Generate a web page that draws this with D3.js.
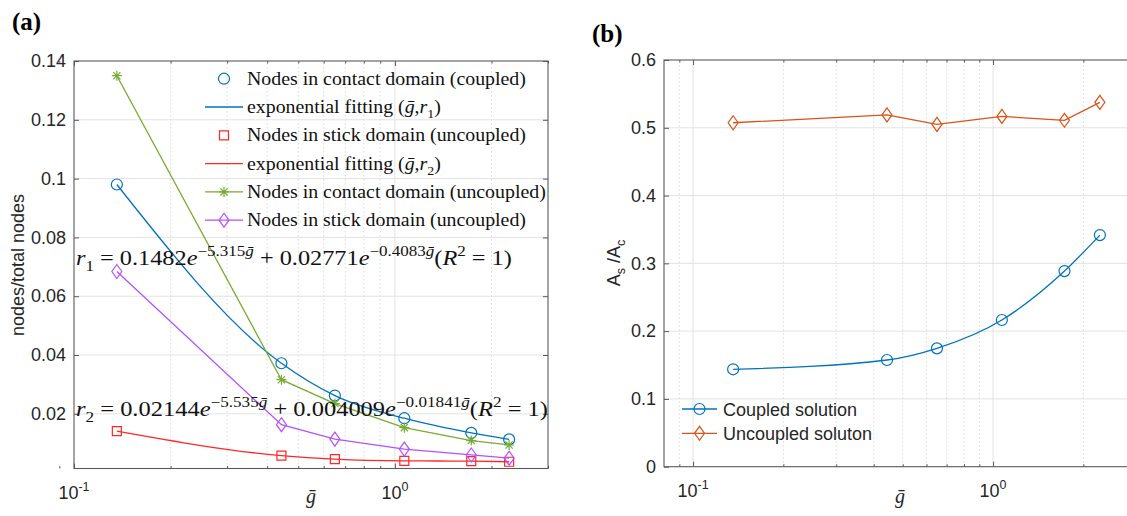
<!DOCTYPE html>
<html>
<head>
<meta charset="utf-8">
<script src="https://cdn.jsdelivr.net/npm/d3@7"></script>
<style>
  body { margin: 0; background: #fff; }
  svg { display: block; }
  text { white-space: pre; }
</style>
</head>
<body>
<div id="chart"></div>
<script>
// Data
const gBar = [0.136, 0.443, 0.65, 1.07, 1.73, 2.27];

// (a) nodes / total nodes
const contactCoupled = [0.098, 0.0372, 0.0262, 0.0185, 0.0135, 0.0113];
const stickCoupled = [0.0141, 0.0058, 0.0046, 0.0040, 0.0039, 0.0037];
const contactUncoupled = [0.135, 0.0316, 0.0235, 0.0153, 0.0109, 0.0094];
const stickUncoupled = [0.0684, 0.0163, 0.0114, 0.0080, 0.0060, 0.0049];

// (b) As / Ac
const ratioCoupled = [0.1437, 0.1574, 0.1746, 0.2164, 0.2886, 0.3417];
const ratioUncoupled = [0.5074, 0.519, 0.505, 0.5168, 0.511, 0.5375];

// Ticks
const yTicksA = [0.02, 0.04, 0.06, 0.08, 0.1, 0.12, 0.14];
const yTicksB = [0, 0.1, 0.2, 0.3, 0.4, 0.5, 0.6];
const decadeTicks = [0.1, 1];
const minorTicks = [0.09, 0.2, 0.3, 0.4, 0.5, 0.6, 0.7, 0.8, 0.9, 2, 3];

// Legend labels (rich text parts: [text, style])
const legendLabelsA = [
    [["Nodes in contact domain (coupled)", ""]],
    [["exponential fitting (", ""], ["ḡ", "i"], [",", ""], ["r", "i"], ["1", "sub"], [")", ""]],
    [["Nodes in stick domain (uncoupled)", ""]],
    [["exponential fitting (", ""], ["ḡ", "i"], [",", ""], ["r", "i"], ["2", "sub"], [")", ""]],
    [["Nodes in contact domain (uncoupled)", ""]],
    [["Nodes in stick domain (uncoupled)", ""]]
];
const legendLabelsB = ["Coupled solution", "Uncoupled soluton"];

const fitEq1 = [["r", "i"], ["1", "sub"], [" = 0.1482", ""], ["e", "i"], ["−5.315", "sup"], ["ḡ", "sup i"],
    [" + 0.02771", ""], ["e", "i"], ["−0.4083", "sup"], ["ḡ", "sup i"], ["(", ""], ["R", "i"], ["2", "sup"], [" = 1)", ""]];
const fitEq2 = [["r", "i"], ["2", "sub"], [" = 0.02144", ""], ["e", "i"], ["−5.535", "sup"], ["ḡ", "sup i"],
    [" + 0.004009", ""], ["e", "i"], ["−0.01841", "sup"], ["ḡ", "sup i"], ["(", ""], ["R", "i"], ["2", "sup"], [" = 1)", ""]];

// Configuration
const width = 1127;
const height = 516;
const colors = {
    blue: "#0072BD",
    orange: "#D95319",
    green: "#77AC30",
    purple: "#B551FF",
    red: "#FF2626"
};
const sansFont = "'Liberation Sans', Arial, sans-serif";
const serifFont = "'Liberation Serif', 'DejaVu Serif', serif";
const axisColor = "#5a5a5a";
const textColor = "#262626";

const svg = d3.select("#chart")
    .append("svg")
    .attr("width", width)
    .attr("height", height)
    .attr("viewBox", [0, 0, width, height]);

// Scales
const xA = d3.scaleLog().domain([0.1, 3]).range([74, 548]);
const yA = d3.scaleLinear().domain([0.0014, 0.14]).range([468.5, 61]);
const xB = d3.scaleLog().domain([0.08, 3]).range([664, 664 + 300 * Math.log10(3 / 0.08)]);
const yB = d3.scaleLinear().domain([0, 0.6]).range([466.7, 60]);

// Marker shapes
const markerPaths = {
    circle: "M5.5,0A5.5,5.5 0 1,1 -5.5,0A5.5,5.5 0 1,1 5.5,0Z",
    square: "M-4.5,-4.5H4.5V4.5H-4.5Z",
    diamond: "M0,-7L5,0L0,7L-5,0Z",
    star: "M-5,0H5M0,-5V5M-3.6,-3.6L3.6,3.6M-3.6,3.6L3.6,-3.6"
};

// Rich text with italic / sub / superscript parts
function richText(sel, parts, size) {
    let shift = 0;
    parts.forEach(([str, style]) => {
        const tokens = style.split(" ");
        const isSup = tokens.includes("sup");
        const isSub = tokens.includes("sub");
        const target = isSup ? -0.42 * size : isSub ? 0.28 * size : 0;
        sel.append("tspan")
            .attr("dy", target - shift)
            .attr("font-size", isSup || isSub ? size * 0.7 : size)
            .attr("font-style", tokens.includes("i") ? "italic" : null)
            .text(str);
        shift = target;
    });
}

function drawAxes(g, x, y, yTicks) {
    const [x0, x1] = x.range();
    const [yBottom, yTop] = y.range();
    const insideX = v => x(v) > x0 + 1 && x(v) < x1 - 1;
    const insideY = v => y(v) < yBottom - 1 && y(v) > yTop + 1;

    // Minor grid (dotted)
    g.append("g")
        .selectAll("line")
        .data(minorTicks.filter(insideX))
        .join("line")
        .attr("x1", d => x(d)).attr("x2", d => x(d))
        .attr("y1", yBottom).attr("y2", yTop)
        .attr("stroke", "#cfcfcf")
        .attr("stroke-width", 0.8)
        .attr("stroke-dasharray", "1.5,2.5");

    // Major grid
    g.append("g")
        .selectAll("line")
        .data(decadeTicks.filter(insideX))
        .join("line")
        .attr("x1", d => x(d)).attr("x2", d => x(d))
        .attr("y1", yBottom).attr("y2", yTop)
        .attr("stroke", "#e2e2e2");
    g.append("g")
        .selectAll("line")
        .data(yTicks.filter(insideY))
        .join("line")
        .attr("x1", x0).attr("x2", x1)
        .attr("y1", d => y(d)).attr("y2", d => y(d))
        .attr("stroke", "#e2e2e2");

    const styleAxis = a => {
        a.select(".domain").remove();
        a.selectAll("line").attr("stroke", axisColor);
        a.attr("font-family", sansFont).attr("font-size", 18);
        a.selectAll("text").attr("fill", textColor);
    };
    const fmt = d => d === 0 ? "0" : String(+d.toFixed(2));

    // y axes (left labelled, right ticks only)
    g.append("g")
        .attr("transform", `translate(${x0},0)`)
        .call(d3.axisLeft(y).tickValues(yTicks).tickSize(-5).tickPadding(8).tickFormat(fmt))
        .call(styleAxis);
    g.append("g")
        .attr("transform", `translate(${x1},0)`)
        .call(d3.axisRight(y).tickValues(yTicks).tickSize(-5).tickFormat(""))
        .call(styleAxis);

    // x ticks bottom / top
    [[d3.axisBottom, yBottom], [d3.axisTop, yTop]].forEach(([axisFn, yPos]) => {
        g.append("g")
            .attr("transform", `translate(0,${yPos})`)
            .call(axisFn(x).tickValues(decadeTicks).tickSize(-5).tickFormat(""))
            .call(styleAxis);
        g.append("g")
            .attr("transform", `translate(0,${yPos})`)
            .call(axisFn(x).tickValues(minorTicks).tickSize(-2.5).tickFormat(""))
            .call(styleAxis);
    });

    // Box
    g.append("rect")
        .attr("x", x0)
        .attr("y", yTop)
        .attr("width", x1 - x0)
        .attr("height", yBottom - yTop)
        .attr("fill", "none")
        .attr("stroke", axisColor)
        .attr("stroke-width", 1.1);

    // x tick labels as 10^n
    const labels = g.append("g")
        .selectAll("text")
        .data(decadeTicks)
        .join("text")
        .attr("x", d => x(d))
        .attr("y", yBottom + 30)
        .attr("text-anchor", "middle")
        .attr("font-family", sansFont)
        .attr("font-size", 18)
        .attr("fill", textColor);
    labels.append("tspan").text("10");
    labels.append("tspan")
        .attr("dy", -8)
        .attr("font-size", 12.5)
        .text(d => String(Math.round(Math.log10(d))));

    // x label g-bar
    g.append("text")
        .attr("x", (x0 + Math.min(x1, width)) / 2 + (x1 > width ? (x1 - width) / 2 : 0))
        .attr("y", 503)
        .attr("text-anchor", "middle")
        .attr("font-family", serifFont)
        .attr("font-style", "italic")
        .attr("font-size", 20)
        .attr("fill", textColor)
        .text("ḡ");
}

function drawMarkers(g, x, y, values, marker, color) {
    g.append("g")
        .selectAll("path")
        .data(values)
        .join("path")
        .attr("transform", (d, i) => `translate(${x(gBar[i])},${y(d)})`)
        .attr("d", markerPaths[marker])
        .attr("fill", "none")
        .attr("stroke", color)
        .attr("stroke-width", 1.2);
}

function drawLine(g, x, y, values, color, smooth) {
    const line = d3.line()
        .x((d, i) => x(gBar[i]))
        .y(d => y(d))
        .curve(smooth ? d3.curveMonotoneX : d3.curveLinear);
    g.append("path")
        .attr("d", line(values))
        .attr("fill", "none")
        .attr("stroke", color)
        .attr("stroke-width", 1.3);
}

// ---------- Panel (a) ----------
const gA = svg.append("g");
drawAxes(gA, xA, yA, yTicksA);

const seriesA = [
    { values: contactCoupled, color: colors.blue, marker: "circle", smooth: true },
    { values: stickCoupled, color: colors.red, marker: "square", smooth: true },
    { values: contactUncoupled, color: colors.green, marker: "star", smooth: false },
    { values: stickUncoupled, color: colors.purple, marker: "diamond", smooth: false }
];
seriesA.forEach(s => {
    drawLine(gA, xA, yA, s.values, s.color, s.smooth);
    drawMarkers(gA, xA, yA, s.values, s.marker, s.color);
});

// Legend (a)
const legendRowsA = [
    { color: colors.blue, marker: "circle", line: false },
    { color: colors.blue, marker: null, line: true },
    { color: colors.red, marker: "square", line: false },
    { color: colors.red, marker: null, line: true },
    { color: colors.green, marker: "star", line: true },
    { color: colors.purple, marker: "diamond", line: true }
];
const legendRowY = i => 78.7 + i * 28.3;
legendRowsA.forEach((r, i) => {
    if (r.line) {
        gA.append("line")
            .attr("x1", 205).attr("x2", 243)
            .attr("y1", legendRowY(i)).attr("y2", legendRowY(i))
            .attr("stroke", r.color)
            .attr("stroke-width", 1.3);
    }
    if (r.marker) {
        gA.append("path")
            .attr("transform", `translate(224,${legendRowY(i)})`)
            .attr("d", markerPaths[r.marker])
            .attr("fill", "none")
            .attr("stroke", r.color)
            .attr("stroke-width", 1.2);
    }
});
const legendTextA = gA.append("g");
legendLabelsA.forEach((parts, i) => {
    const t = legendTextA.append("text")
        .attr("x", 0)
        .attr("y", legendRowY(i) + 6)
        .attr("font-family", serifFont)
        .attr("fill", "#111");
    richText(t, parts, 19);
});
const legendW = legendTextA.node().getBBox().width;
legendTextA.attr("transform", `translate(247,0) scale(${299 / legendW},1)`);

// Fit equations
function drawEquation(g, parts, x0, baseline, targetWidth) {
    const t = g.append("text")
        .attr("font-family", serifFont)
        .attr("fill", "#111");
    richText(t, parts, 21);
    const w = t.node().getBBox().width;
    t.attr("transform", `translate(${x0},${baseline}) scale(${targetWidth / w},1)`);
}
drawEquation(gA, fitEq1, 76, 265, 436);
drawEquation(gA, fitEq2, 76, 416, 472);

// y label (a)
gA.append("text")
    .attr("transform", "translate(24,265) rotate(-90)")
    .attr("text-anchor", "middle")
    .attr("font-family", sansFont)
    .attr("font-size", 18)
    .attr("fill", textColor)
    .text("nodes/total nodes");

// ---------- Panel (b) ----------
const gB = svg.append("g");
drawAxes(gB, xB, yB, yTicksB);

drawLine(gB, xB, yB, ratioCoupled, colors.blue, true);
drawMarkers(gB, xB, yB, ratioCoupled, "circle", colors.blue);
drawLine(gB, xB, yB, ratioUncoupled, colors.orange, false);
drawMarkers(gB, xB, yB, ratioUncoupled, "diamond", colors.orange);

// Legend (b)
const legendRowsB = [
    { color: colors.blue, marker: "circle" },
    { color: colors.orange, marker: "diamond" }
];
legendRowsB.forEach((r, i) => {
    const yy = 409 + i * 24.3;
    gB.append("line")
        .attr("x1", 682).attr("x2", 717)
        .attr("y1", yy).attr("y2", yy)
        .attr("stroke", r.color)
        .attr("stroke-width", 1.3);
    gB.append("path")
        .attr("transform", `translate(699.5,${yy})`)
        .attr("d", markerPaths[r.marker])
        .attr("fill", "none")
        .attr("stroke", r.color)
        .attr("stroke-width", 1.2);
    gB.append("text")
        .attr("x", 723)
        .attr("y", yy + 6.5)
        .attr("font-family", sansFont)
        .attr("font-size", 18)
        .attr("fill", textColor)
        .text(legendLabelsB[i]);
});

// y label (b)
const yLabelB = gB.append("text")
    .attr("transform", "translate(620,263) rotate(-90)")
    .attr("text-anchor", "middle")
    .attr("font-family", sansFont)
    .attr("fill", textColor);
richText(yLabelB, [["A", ""], ["s", "sub"], [" /A", ""], ["c", "sub"]], 18);

// Panel titles
svg.append("text")
    .attr("x", 12).attr("y", 30)
    .attr("font-family", serifFont)
    .attr("font-weight", "bold")
    .attr("font-size", 25)
    .attr("fill", "#000")
    .text("(a)");
svg.append("text")
    .attr("x", 592).attr("y", 42)
    .attr("font-family", serifFont)
    .attr("font-weight", "bold")
    .attr("font-size", 25)
    .attr("fill", "#000")
    .text("(b)");
</script>
</body>
</html>
